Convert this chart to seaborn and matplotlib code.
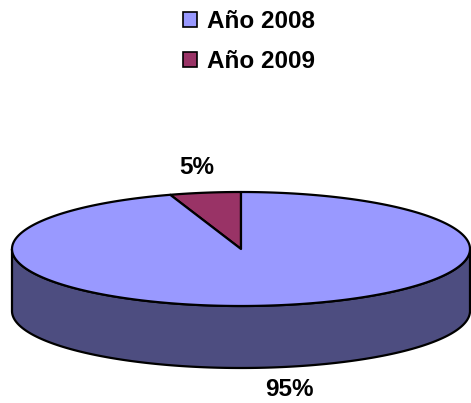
import numpy as np
import matplotlib
matplotlib.use("Agg")
import matplotlib.pyplot as plt
from matplotlib.patches import Polygon, Patch
import seaborn as sns

# Data
categories = ["Año 2008", "Año 2009"]
values = [95, 5]
labels = ["95%", "5%"]
top_colors = ["#9999FF", "#993366"]
side_colors = ["#4D4D80", "#4D1A33"]

sns.set_style("white")
plt.rcParams["font.family"] = ["Liberation Sans", "DejaVu Sans"]
plt.rcParams["text.color"] = "black"

W, H = 471, 403
fig = plt.figure(figsize=(W / 100, H / 100), dpi=100)
ax = fig.add_axes([0, 0, 1, 1])
ax.set_xlim(0, W)
ax.set_ylim(H, 0)
ax.axis("off")

# geometry of the 3D pie
cx, cy, rx, ry, depth = 241, 249, 229, 57, 62
start = 90.0  # degrees, counter-clockwise

total = float(sum(values))
order = [1, 0]  # 2009 first from 12 o'clock, counter-clockwise, then 2008
angles = {}
a = start
for i in order:
    span = 360.0 * values[i] / total
    angles[i] = (a, a + span)
    a += span


def pt(t, dy=0.0):
    r = np.deg2rad(t)
    return cx + rx * np.cos(r), cy - ry * np.sin(r) + dy


# sides (front half: 180..360 deg)
for i in order:
    a0, a1 = angles[i]
    for k in (-1, 0, 1):
        s0 = max(a0, 180 + 360 * k)
        s1 = min(a1, 360 + 360 * k)
        if s1 > s0:
            ts = np.linspace(s0, s1, 200)
            top = [pt(t) for t in ts]
            bot = [pt(t, depth) for t in ts[::-1]]
            ax.add_patch(Polygon(top + bot, closed=True, facecolor=side_colors[i],
                                 edgecolor="black", linewidth=1.6, joinstyle="round"))

# top wedges
for i in order:
    a0, a1 = angles[i]
    ts = np.linspace(a0, a1, 400)
    pts = [(cx, cy)] + [pt(t) for t in ts]
    ax.add_patch(Polygon(pts, closed=True, facecolor=top_colors[i],
                         edgecolor="black", linewidth=1.6, joinstyle="round"))

# labels
for i in order:
    a0, a1 = angles[i]
    mid = (a0 + a1) / 2
    x, y = pt(mid)
    if np.sin(np.deg2rad(mid)) < 0:
        ax.text(x + 13, y + depth + 34, labels[i], ha="center", va="bottom",
                fontsize=17.5, fontweight="bold", color="black")
    else:
        ax.text(x - 8, y - 25, labels[i], ha="center", va="center",
                fontsize=17.5, fontweight="bold", color="black")

# legend
handles = [Patch(facecolor=top_colors[i], edgecolor="black", linewidth=1.2,
                 label=categories[i]) for i in range(len(categories))]
leg = ax.legend(handles=handles, loc="upper left", bbox_to_anchor=(183 / W, 1 - 10 / H),
                frameon=False, prop={"weight": "bold", "size": 17.5},
                handlelength=0.58, handleheight=0.58, handletextpad=0.42,
                labelspacing=0.7, borderaxespad=0, borderpad=0)
for t in leg.get_texts():
    t.set_color("black")

fig.savefig("out.png", dpi=100)
